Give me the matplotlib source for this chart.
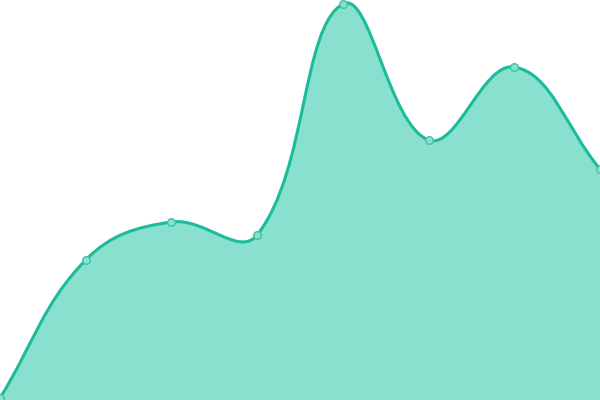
import matplotlib
matplotlib.use("Agg")
import matplotlib.pyplot as plt
from matplotlib.path import Path
from matplotlib.patches import PathPatch
import numpy as np

categories = list(range(8))
values = [2, 140, 178, 165, 396, 260, 333, 231]

LINE = "#1abc9c"
FILL = "#8ae0cf"

fig = plt.figure(figsize=(6, 4), dpi=100)
ax = fig.add_axes([0, 0, 1, 1])
ax.set_xlim(0, 7)
ax.set_ylim(0, 400)
ax.axis("off")

xs = np.array(categories, dtype=float)
ys = np.array(values, dtype=float)
sx = 600 / 7.0  # pixel scale for distance computation
t = 0.4
n = len(xs)
cps = []
for i in range(n):
    prev = (xs[max(i - 1, 0)], ys[max(i - 1, 0)])
    cur = (xs[i], ys[i])
    nxt = (xs[min(i + 1, n - 1)], ys[min(i + 1, n - 1)])
    d01 = np.hypot((cur[0] - prev[0]) * sx, cur[1] - prev[1])
    d12 = np.hypot((nxt[0] - cur[0]) * sx, nxt[1] - cur[1])
    s = d01 + d12 if d01 + d12 > 0 else 1
    fa = t * d01 / s
    fb = t * d12 / s
    dx = nxt[0] - prev[0]
    dy = nxt[1] - prev[1]
    cps.append(((cur[0] - fa * dx, cur[1] - fa * dy), (cur[0] + fb * dx, cur[1] + fb * dy)))

verts = [(xs[0], ys[0])]
codes = [Path.MOVETO]
for i in range(n - 1):
    verts += [cps[i][1], cps[i + 1][0], (xs[i + 1], ys[i + 1])]
    codes += [Path.CURVE4] * 3

line_path = Path(verts, codes)
fill_verts = verts + [(xs[-1], 0), (xs[0], 0), (xs[0], ys[0])]
fill_codes = codes + [Path.LINETO, Path.LINETO, Path.CLOSEPOLY]
ax.add_patch(PathPatch(Path(fill_verts, fill_codes), facecolor=FILL, edgecolor="none", zorder=1))
ax.add_patch(PathPatch(line_path, facecolor="none", edgecolor=LINE, lw=2.2, zorder=2))
ax.plot(xs, ys, "o", ms=5.5, mfc="#8ae0cf", mec="#3cc4a8", mew=1.0, zorder=3)

fig.savefig("out.png", dpi=100)
